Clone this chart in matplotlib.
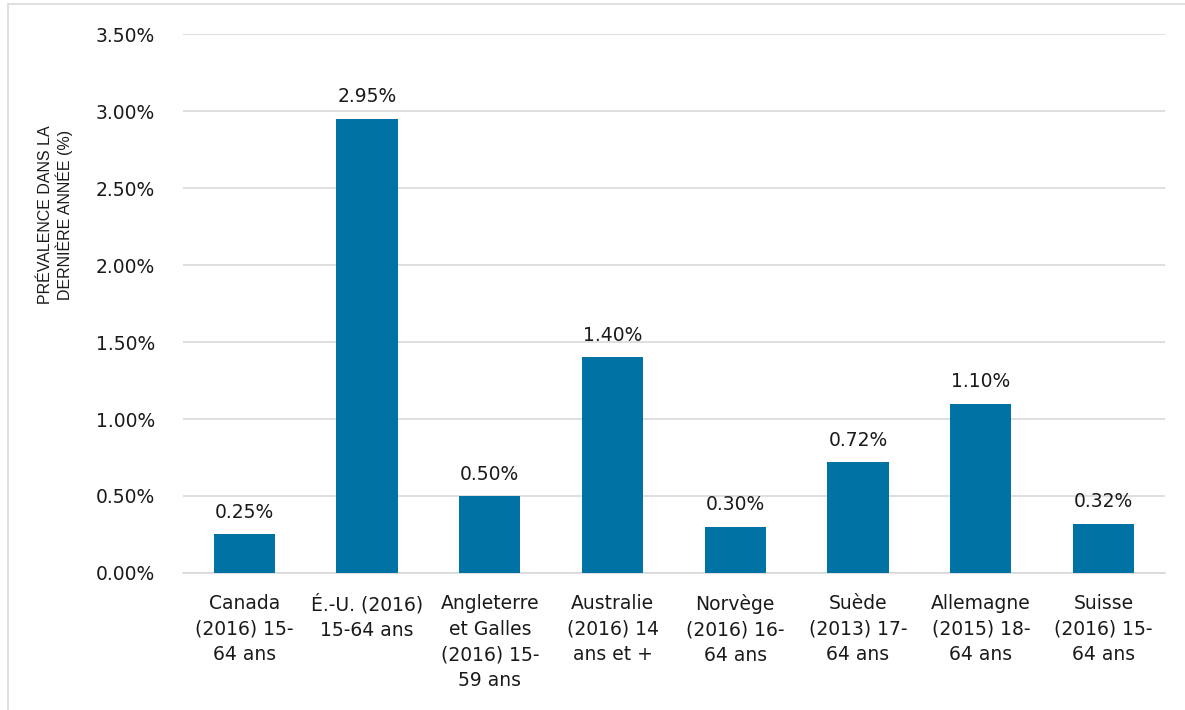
import matplotlib.pyplot as plt
from matplotlib.patches import Rectangle

pays = ['Canada\n(2016) 15-\n64 ans', 'É.-U. (2016)\n15-64 ans', 'Angleterre\net Galles\n(2016) 15-\n59 ans',
        'Australie\n(2016) 14\nans et +', 'Norvège\n(2016) 16-\n64 ans', 'Suède\n(2013) 17-\n64 ans',
        'Allemagne\n(2015) 18-\n64 ans', 'Suisse\n(2016) 15-\n64 ans']
prevalence = [0.25, 2.95, 0.50, 1.40, 0.30, 0.72, 1.10, 0.32]
yticks = [0, 0.5, 1.0, 1.5, 2.0, 2.5, 3.0, 3.5]

plt.rcParams['font.family'] = ['DejaVu Sans']

fig = plt.figure(figsize=(11.85, 7.1), dpi=100)
ax = fig.add_axes([0.1544, 0.193, 0.8286, 0.759])

x = range(len(pays))
ax.bar(x, prevalence, width=0.5, color='#0072A3', zorder=3)
for i, v in zip(x, prevalence):
    ax.text(i, v + 0.08, f'{v:.2f}%', ha='center', va='bottom', fontsize=13.5, color='#1a1a1a')

ax.set_xlim(-0.5, len(pays) - 0.5)
ax.set_ylim(0, 3.5)
ax.set_yticks(yticks)
ax.set_yticklabels([f'{t:.2f}%' for t in yticks], fontsize=13.5, color='#1a1a1a')
ax.set_xticks(list(x))
ax.set_xticklabels(pays, fontsize=13.5, color='#1a1a1a', linespacing=1.45)
ax.tick_params(length=0)
ax.tick_params(axis='x', pad=15)
ax.tick_params(axis='y', pad=20)
ax.yaxis.grid(True, color='#d9d9d9', linewidth=1.2, zorder=0)
for s in ['top', 'right', 'left']:
    ax.spines[s].set_visible(False)
ax.spines['bottom'].set_color('#d9d9d9')
ax.spines['bottom'].set_linewidth(1.2)

ax.set_ylabel('PRÉVALENCE DANS LA\nDERNIÈRE ANNÉE (%)', fontsize=11.5, color='#1a1a1a',
              linespacing=1.15, family='Liberation Sans')
ax.yaxis.set_label_coords(-0.112, 0.665)

fig.patches.append(Rectangle((0.007, -0.01), 1.2, 1.004, transform=fig.transFigure,
                             fill=False, edgecolor='#d9d9d9', linewidth=1.2))

fig.savefig('out.png', dpi=100)
